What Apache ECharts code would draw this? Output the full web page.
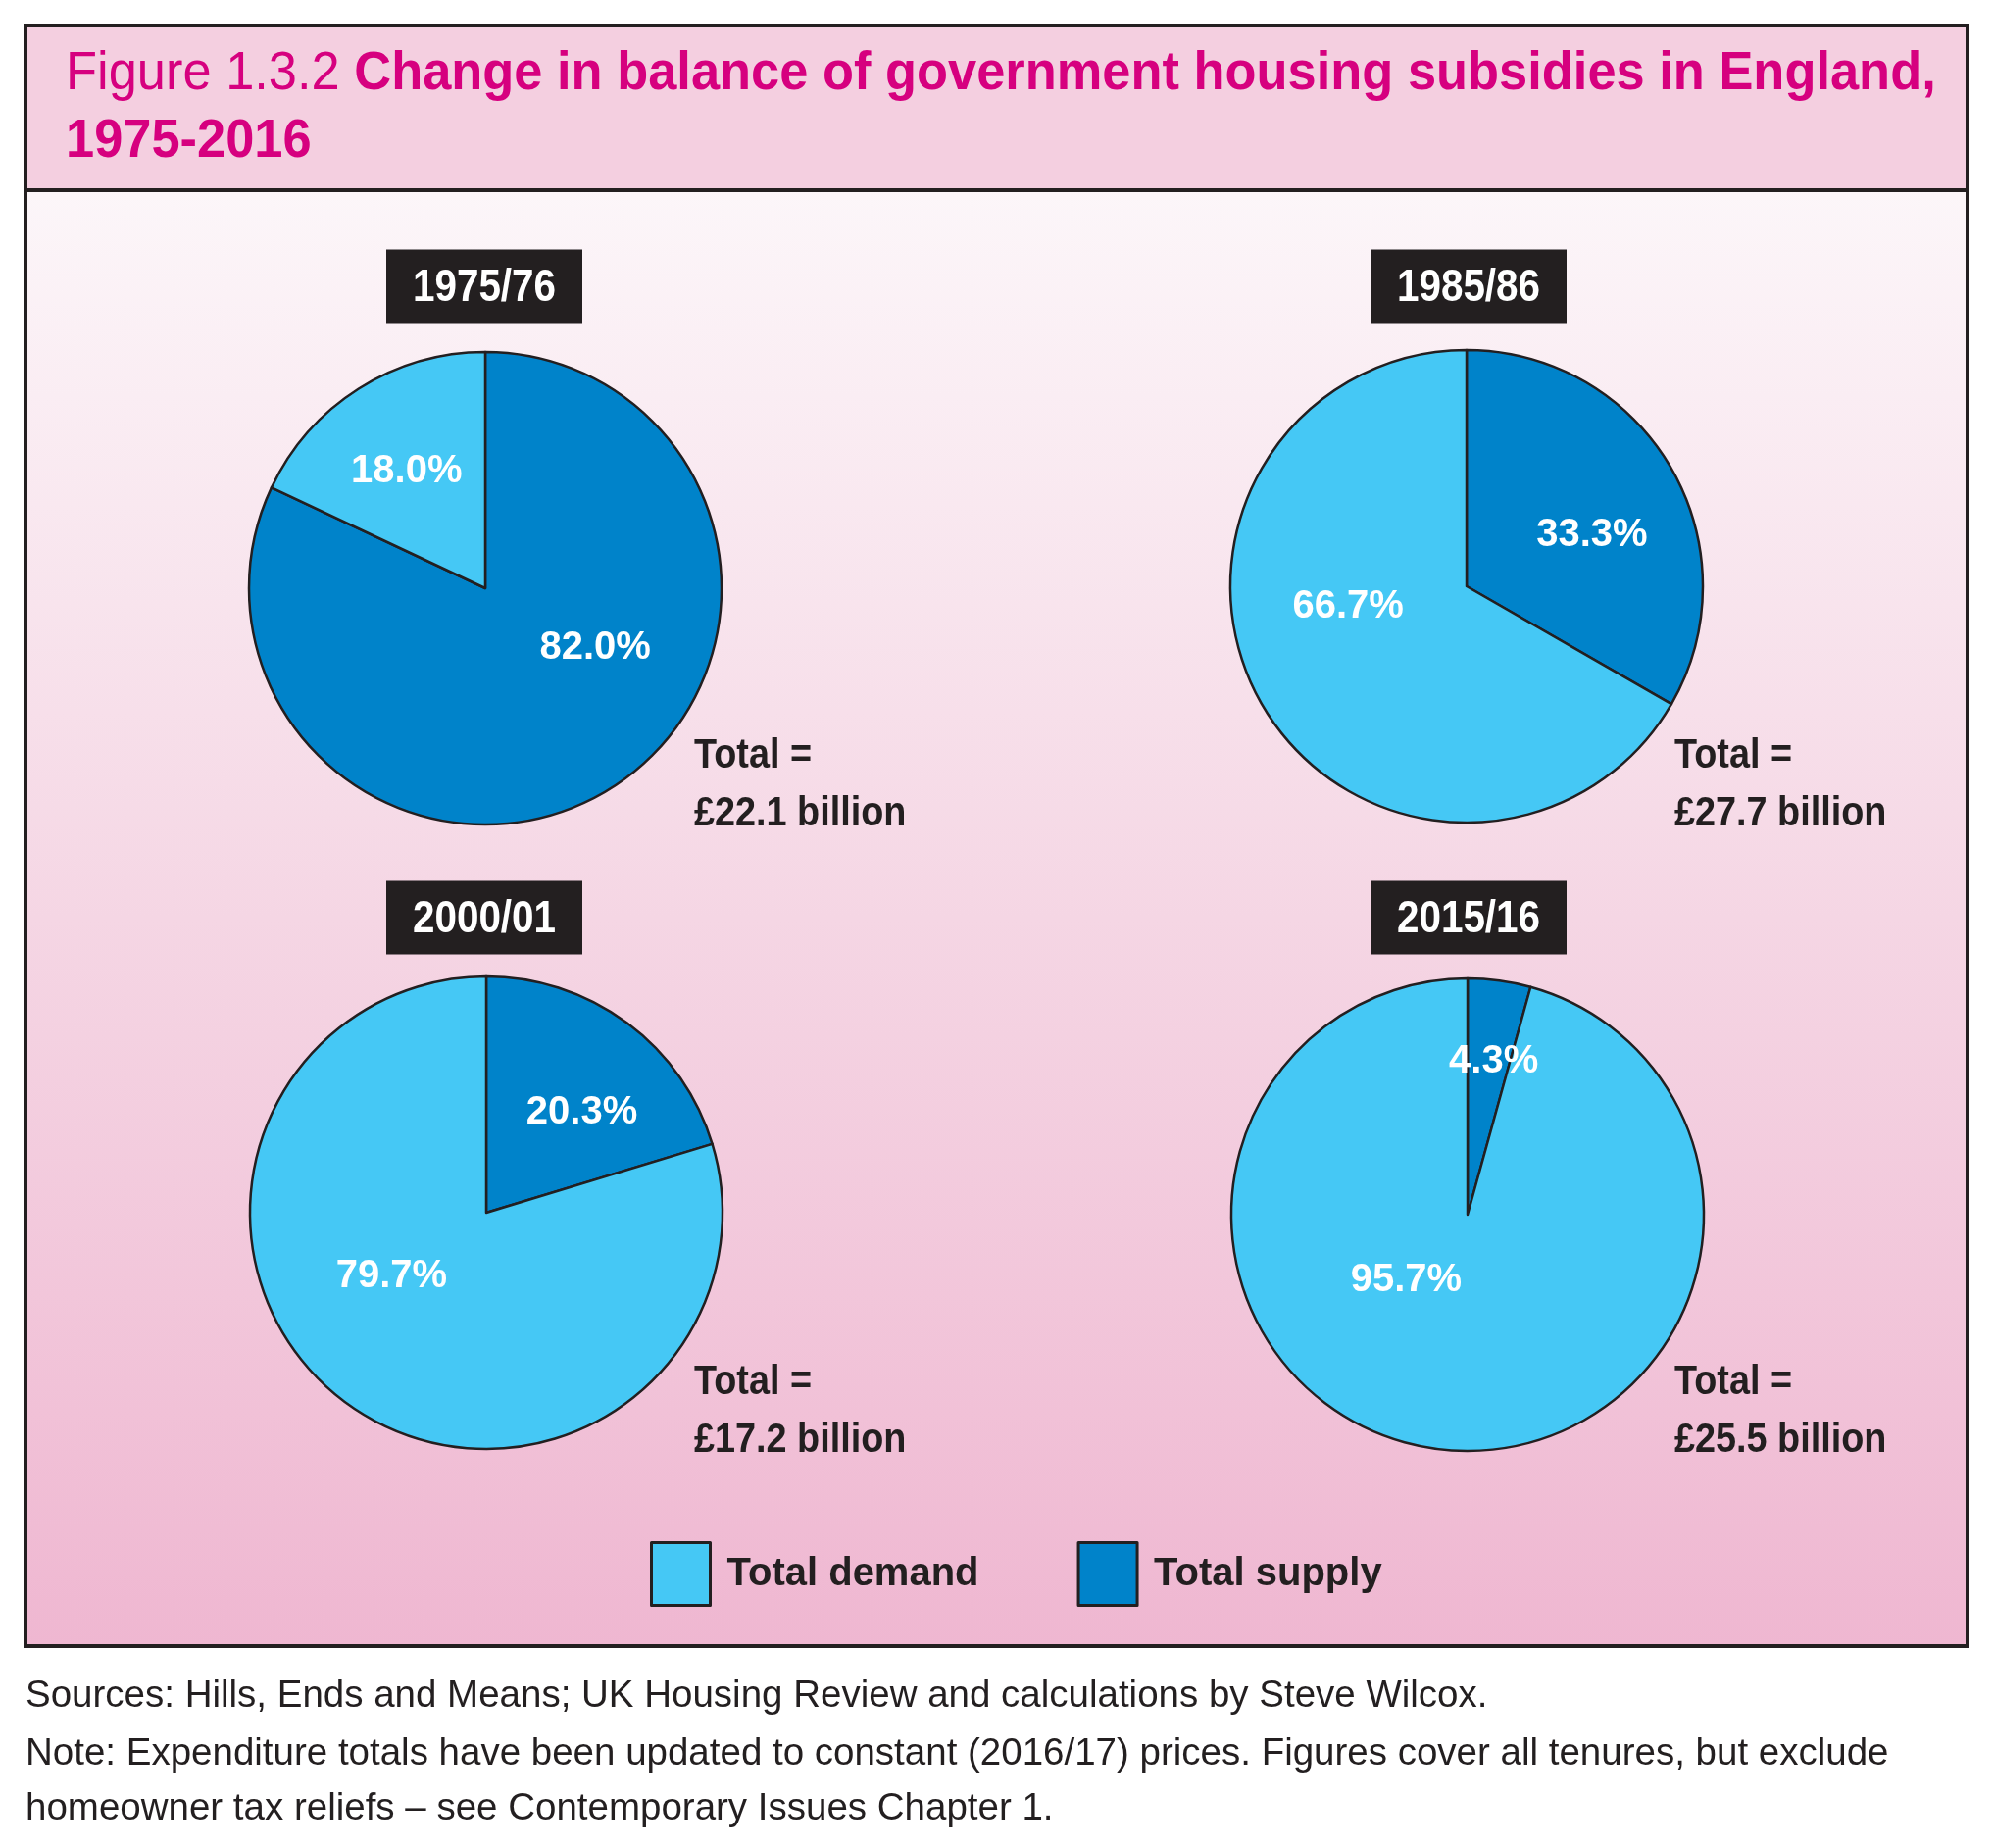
<!DOCTYPE html>
<html>
<head>
<meta charset="utf-8">
<script src="https://cdn.jsdelivr.net/npm/echarts@6/dist/echarts.min.js"></script>
<style>
html,body{margin:0;padding:0;background:#fff;}
#chart{width:2034px;height:1885px;}
</style>
</head>
<body>
<div id="chart"></div>
<script>
// ---- data ----
const years = ['1975/76', '1985/86', '2000/01', '2015/16'];
const supplyShare = [82.0, 33.3, 20.3, 4.3];
const demandShare = [18.0, 66.7, 79.7, 95.7];
const totalsBn = [22.1, 27.7, 17.2, 25.5];
const seriesNames = ['Total supply', 'Total demand'];
const legendOrder = ['Total demand', 'Total supply'];
const titleLead = 'Figure 1.3.2 ';
const titleMain = 'Change in balance of government housing subsidies in England,';
const titleLine2 = '1975-2016';
const notes = [
  'Sources: Hills, Ends and Means; UK Housing Review and calculations by Steve Wilcox.',
  'Note: Expenditure totals have been updated to constant (2016/17) prices. Figures cover all tenures, but exclude',
  'homeowner tax reliefs \u2013 see Contemporary Issues Chapter 1.'
];

// ---- layout / style ----
const FONT = '"Liberation Sans", Arial, sans-serif';
const DARK = '#231f20';
const MAG = '#d6007f';
const C_SUPPLY = '#0083ca';
const C_DEMAND = '#45c8f5';
const centers = [[495, 600], [1496, 598], [496, 1237], [1497, 1239]];
const R = 241;
const labelOffsets = [
  [[46, -43], [-14, -15]],
  [[21, 10], [-14, -41]],
  [[24, -3], [-23, -34]],
  [[10, -34], [-46, -55]]
];
const boxCenters = [[494, 292], [1498, 292], [494, 936], [1498, 936]];
const totalPos = [[708, 784], [1708, 784], [708, 1423], [1708, 1423]];

const chart = echarts.init(document.getElementById('chart'), null, {renderer: 'canvas'});

const series = years.map((y, i) => ({
  type: 'pie',
  name: y,
  center: centers[i],
  radius: R,
  startAngle: 90,
  clockwise: true,
  avoidLabelOverlap: false,
  animation: false,
  silent: true,
  itemStyle: {borderColor: DARK, borderWidth: 2.5},
  label: {
    show: true,
    position: 'inside',
    color: '#fff',
    fontFamily: FONT,
    fontWeight: 'bold',
    fontSize: 40,
    formatter: p => p.value.toFixed(1) + '%'
  },
  labelLine: {show: false},
  emphasis: {disabled: true},
  data: [
    {name: seriesNames[0], value: supplyShare[i], itemStyle: {color: C_SUPPLY},
     label: {offset: labelOffsets[i][0]}},
    {name: seriesNames[1], value: demandShare[i], itemStyle: {color: C_DEMAND},
     label: {offset: labelOffsets[i][1]}}
  ]
}));

// baseline -> y for verticalAlign 'middle'
const bl = (b, fs) => b - 0.31 * fs;

const graphics = [];
graphics.push({type: 'rect', z: -10, shape: {x: 26, y: 26, width: 1981, height: 168},
  style: {fill: '#f4cfe0'}});
graphics.push({type: 'rect', z: -10, shape: {x: 26, y: 194, width: 1981, height: 1485},
  style: {fill: new echarts.graphic.LinearGradient(0, 0, 0, 1, [
    {offset: 0, color: '#fcf6f9'},
    {offset: 0.5, color: '#f5d6e4'},
    {offset: 1, color: '#efb7d1'}
  ])}});
graphics.push({type: 'rect', z: 50, shape: {x: 26, y: 26, width: 1981, height: 1653},
  style: {fill: null, stroke: DARK, lineWidth: 4}});
graphics.push({type: 'line', z: 50, shape: {x1: 26, y1: 194, x2: 2007, y2: 194},
  style: {stroke: DARK, lineWidth: 4}});

// title
graphics.push({type: 'text', z: 30, x: 67, y: bl(93, 56), scaleX: 0.936,
  style: {
    text: '{a|' + titleLead + '}{b|' + titleMain + '}',
    verticalAlign: 'middle', align: 'left',
    rich: {
      a: {fontFamily: FONT, fontSize: 56, fontWeight: 'normal', fill: MAG, color: MAG},
      b: {fontFamily: FONT, fontSize: 56, fontWeight: 'bold', fill: MAG, color: MAG}
    }
  }});
graphics.push({type: 'text', z: 30, x: 67, y: bl(162, 56), scaleX: 0.936,
  style: {text: titleLine2, fill: MAG, font: 'bold 56px ' + FONT, align: 'left', verticalAlign: 'middle'}});

years.forEach((y, i) => {
  const [bx, by] = boxCenters[i];
  graphics.push({type: 'rect', z: 20, shape: {x: bx - 100, y: by - 37.5, width: 200, height: 75},
    style: {fill: DARK}});
  graphics.push({type: 'text', z: 21, x: bx, y: by + 2, scaleX: 0.86,
    style: {text: y, fill: '#fff', font: 'bold 47px ' + FONT, align: 'center', verticalAlign: 'middle'}});
  const [tx, ty] = totalPos[i];
  graphics.push({type: 'text', z: 21, x: tx, y: bl(ty, 42), scaleX: 0.9,
    style: {text: 'Total =', fill: DARK, font: 'bold 42px ' + FONT, align: 'left', verticalAlign: 'middle'}});
  graphics.push({type: 'text', z: 21, x: tx, y: bl(ty + 59, 42), scaleX: 0.9,
    style: {text: '\u00a3' + totalsBn[i].toFixed(1) + ' billion', fill: DARK, font: 'bold 42px ' + FONT,
      align: 'left', verticalAlign: 'middle'}});
});

const noteY = [1742, 1801, 1857];
notes.forEach((t, i) => {
  graphics.push({type: 'text', x: 26, y: bl(noteY[i], 38.5),
    style: {text: t, fill: DARK, font: '38.5px ' + FONT, align: 'left', verticalAlign: 'middle'}});
});

chart.setOption({
  backgroundColor: '#ffffff',
  animation: false,
  legend: {
    data: legendOrder,
    left: 663, top: 1572,
    padding: 0,
    orient: 'horizontal',
    itemWidth: 60, itemHeight: 64, itemGap: 100,
    icon: 'rect',
    selectedMode: false,
    itemStyle: {borderColor: DARK, borderWidth: 3},
    textStyle: {fontFamily: FONT, fontSize: 40, fontWeight: 'bold', color: DARK, padding: [7, 0, 0, 12]}
  },
  graphic: graphics,
  series: series
});
</script>
</body>
</html>
